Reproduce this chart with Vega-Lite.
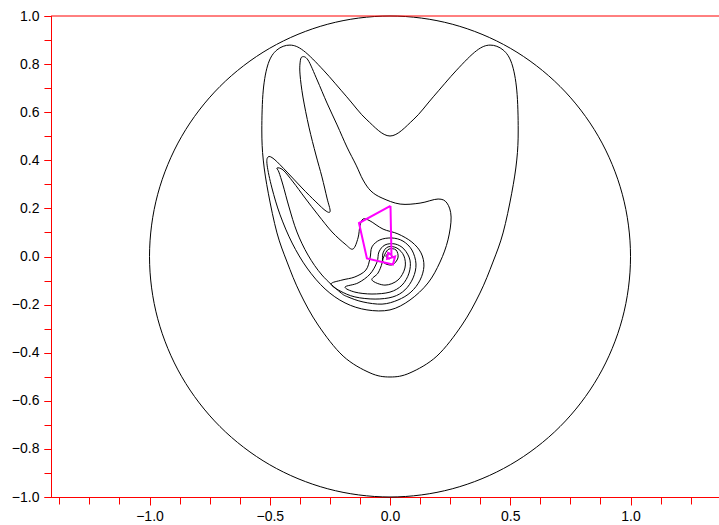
{
  "$schema": "https://vega.github.io/schema/vega-lite/v6.json",
  "autosize": {"type": "none"},
  "padding": {"left": 51, "top": 16, "right": 0, "bottom": 28},
  "width": 668,
  "height": 481,
  "background": "white",
  "config": {
    "view": {"stroke": null},
    "axis": {
      "grid": false,
      "domainColor": "#ff0000",
      "tickColor": "#ff0000",
      "tickSize": 7,
      "domainWidth": 1,
      "tickWidth": 1,
      "labelColor": "#000000",
      "labelFont": "Liberation Sans",
      "labelFontSize": 14,
      "labelPadding": 4,
      "labelOverlap": false,
      "labelFlush": false,
      "title": null
    }
  },
  "resolve": {"axis": {"x": "independent", "y": "independent"}},
  "datasets": {
    "curves": [
      {"c":0,"i":0,"x":1,"y":0},{"c":0,"i":1,"x":0.9659,"y":0.2588},{"c":0,"i":2,"x":0.866,"y":0.5},{"c":0,"i":3,"x":0.7071,"y":0.7071},{"c":0,"i":4,"x":0.5,"y":0.866},{"c":0,"i":5,"x":0.2588,"y":0.9659},{"c":0,"i":6,"x":0,"y":1},{"c":0,"i":7,"x":-0.2588,"y":0.9659},{"c":0,"i":8,"x":-0.5,"y":0.866},{"c":0,"i":9,"x":-0.7071,"y":0.7071},{"c":0,"i":10,"x":-0.866,"y":0.5},{"c":0,"i":11,"x":-0.9659,"y":0.2588},{"c":0,"i":12,"x":-1,"y":0},{"c":0,"i":13,"x":-0.9659,"y":-0.2588},{"c":0,"i":14,"x":-0.866,"y":-0.5},{"c":0,"i":15,"x":-0.7071,"y":-0.7071},{"c":0,"i":16,"x":-0.5,"y":-0.866},{"c":0,"i":17,"x":-0.2588,"y":-0.9659},{"c":0,"i":18,"x":0,"y":-1},{"c":0,"i":19,"x":0.2588,"y":-0.9659},{"c":0,"i":20,"x":0.5,"y":-0.866},{"c":0,"i":21,"x":0.7071,"y":-0.7071},{"c":0,"i":22,"x":0.866,"y":-0.5},{"c":0,"i":23,"x":0.9659,"y":-0.2588},

      {"c":1,"i":0,"x":0,"y":0.501},{"c":1,"i":1,"x":0.096,"y":0.568},{"c":1,"i":2,"x":0.18,"y":0.664},{"c":1,"i":3,"x":0.277,"y":0.775},{"c":1,"i":4,"x":0.36,"y":0.856},{"c":1,"i":5,"x":0.416,"y":0.879},{"c":1,"i":6,"x":0.47,"y":0.859},{"c":1,"i":7,"x":0.506,"y":0.803},{"c":1,"i":8,"x":0.527,"y":0.692},{"c":1,"i":9,"x":0.533,"y":0.526},{"c":1,"i":10,"x":0.527,"y":0.401},{"c":1,"i":11,"x":0.506,"y":0.263},{"c":1,"i":12,"x":0.47,"y":0.098},{"c":1,"i":13,"x":0.428,"y":-0.023},{"c":1,"i":14,"x":0.374,"y":-0.152},{"c":1,"i":15,"x":0.299,"y":-0.285},{"c":1,"i":16,"x":0.195,"y":-0.414},{"c":1,"i":17,"x":0.083,"y":-0.484},{"c":1,"i":18,"x":0,"y":-0.501},{"c":1,"i":19,"x":-0.083,"y":-0.484},{"c":1,"i":20,"x":-0.195,"y":-0.414},{"c":1,"i":21,"x":-0.299,"y":-0.285},{"c":1,"i":22,"x":-0.374,"y":-0.152},{"c":1,"i":23,"x":-0.428,"y":-0.023},{"c":1,"i":24,"x":-0.47,"y":0.098},{"c":1,"i":25,"x":-0.506,"y":0.263},{"c":1,"i":26,"x":-0.527,"y":0.401},{"c":1,"i":27,"x":-0.533,"y":0.526},{"c":1,"i":28,"x":-0.527,"y":0.692},{"c":1,"i":29,"x":-0.506,"y":0.803},{"c":1,"i":30,"x":-0.47,"y":0.859},{"c":1,"i":31,"x":-0.416,"y":0.879},{"c":1,"i":32,"x":-0.36,"y":0.856},{"c":1,"i":33,"x":-0.277,"y":0.775},{"c":1,"i":34,"x":-0.18,"y":0.664},{"c":1,"i":35,"x":-0.096,"y":0.568},

      {"c":2,"i":1,"x":-0.366,"y":0.83},{"c":2,"i":2,"x":-0.341,"y":0.817},{"c":2,"i":3,"x":-0.303,"y":0.734},{"c":2,"i":4,"x":-0.262,"y":0.638},{"c":2,"i":5,"x":-0.22,"y":0.547},{"c":2,"i":6,"x":-0.179,"y":0.455},{"c":2,"i":7,"x":-0.141,"y":0.38},{"c":2,"i":8,"x":-0.112,"y":0.318},{"c":2,"i":9,"x":-0.079,"y":0.272},{"c":2,"i":10,"x":-0.033,"y":0.243},{"c":2,"i":11,"x":0.042,"y":0.218},{"c":2,"i":12,"x":0.125,"y":0.222},{"c":2,"i":13,"x":0.2,"y":0.239},{"c":2,"i":14,"x":0.237,"y":0.222},{"c":2,"i":15,"x":0.254,"y":0.164},{"c":2,"i":16,"x":0.241,"y":0.069},{"c":2,"i":17,"x":0.208,"y":-0.023},{"c":2,"i":18,"x":0.158,"y":-0.11},{"c":2,"i":19,"x":0.083,"y":-0.181},{"c":2,"i":20,"x":0,"y":-0.222},{"c":2,"i":21,"x":-0.096,"y":-0.222},{"c":2,"i":22,"x":-0.187,"y":-0.193},{"c":2,"i":23,"x":-0.27,"y":-0.135},{"c":2,"i":24,"x":-0.345,"y":-0.048},{"c":2,"i":25,"x":-0.407,"y":0.056},{"c":2,"i":26,"x":-0.457,"y":0.173},{"c":2,"i":27,"x":-0.491,"y":0.285},{"c":2,"i":28,"x":-0.511,"y":0.38},{"c":2,"i":29,"x":-0.507,"y":0.414},{"c":2,"i":30,"x":-0.482,"y":0.405},{"c":2,"i":31,"x":-0.428,"y":0.351},{"c":2,"i":32,"x":-0.366,"y":0.285},{"c":2,"i":33,"x":-0.308,"y":0.227},{"c":2,"i":34,"x":-0.266,"y":0.189},{"c":2,"i":35,"x":-0.249,"y":0.189},{"c":2,"i":36,"x":-0.262,"y":0.243},{"c":2,"i":37,"x":-0.283,"y":0.331},{"c":2,"i":38,"x":-0.308,"y":0.422},{"c":2,"i":39,"x":-0.337,"y":0.538},{"c":2,"i":40,"x":-0.362,"y":0.663},{"c":2,"i":41,"x":-0.374,"y":0.755},{"c":2,"i":42,"x":-0.374,"y":0.805},

      {"c":3,"i":1,"x":-0.47,"y":0.368},{"c":3,"i":2,"x":-0.445,"y":0.36},{"c":3,"i":3,"x":-0.403,"y":0.31},{"c":3,"i":4,"x":-0.353,"y":0.243},{"c":3,"i":5,"x":-0.299,"y":0.173},{"c":3,"i":6,"x":-0.241,"y":0.102},{"c":3,"i":7,"x":-0.187,"y":0.052},{"c":3,"i":8,"x":-0.154,"y":0.031},{"c":3,"i":9,"x":-0.133,"y":0.077},{"c":3,"i":10,"x":-0.125,"y":0.127},{"c":3,"i":11,"x":-0.112,"y":0.156},{"c":3,"i":12,"x":-0.083,"y":0.148},{"c":3,"i":13,"x":-0.029,"y":0.114},{"c":3,"i":14,"x":0.033,"y":0.094},{"c":3,"i":15,"x":0.091,"y":0.06},{"c":3,"i":16,"x":0.129,"y":0.015},{"c":3,"i":17,"x":0.141,"y":-0.04},{"c":3,"i":18,"x":0.125,"y":-0.098},{"c":3,"i":19,"x":0.087,"y":-0.148},{"c":3,"i":20,"x":0.033,"y":-0.181},{"c":3,"i":21,"x":-0.033,"y":-0.198},{"c":3,"i":22,"x":-0.112,"y":-0.189},{"c":3,"i":23,"x":-0.175,"y":-0.168},{"c":3,"i":24,"x":-0.208,"y":-0.148},{"c":3,"i":25,"x":-0.283,"y":-0.077},{"c":3,"i":26,"x":-0.341,"y":0.006},{"c":3,"i":27,"x":-0.387,"y":0.102},{"c":3,"i":28,"x":-0.42,"y":0.206},{"c":3,"i":29,"x":-0.445,"y":0.297},{"c":3,"i":30,"x":-0.462,"y":0.351},

      {"c":4,"i":1,"x":-0.245,"y":-0.114},{"c":4,"i":2,"x":-0.208,"y":-0.143},{"c":4,"i":3,"x":-0.146,"y":-0.168},{"c":4,"i":4,"x":-0.062,"y":-0.177},{"c":4,"i":5,"x":0.012,"y":-0.168},{"c":4,"i":6,"x":0.062,"y":-0.139},{"c":4,"i":7,"x":0.096,"y":-0.089},{"c":4,"i":8,"x":0.108,"y":-0.031},{"c":4,"i":9,"x":0.091,"y":0.027},{"c":4,"i":10,"x":0.054,"y":0.064},{"c":4,"i":11,"x":0.008,"y":0.077},{"c":4,"i":12,"x":-0.042,"y":0.069},{"c":4,"i":13,"x":-0.075,"y":0.04},{"c":4,"i":14,"x":-0.083,"y":-0.006},{"c":4,"i":15,"x":-0.1,"y":-0.056},{"c":4,"i":16,"x":-0.146,"y":-0.085},{"c":4,"i":17,"x":-0.2,"y":-0.098},

      {"c":5,"i":1,"x":-0.187,"y":-0.127},{"c":5,"i":2,"x":-0.146,"y":-0.148},{"c":5,"i":3,"x":-0.075,"y":-0.156},{"c":5,"i":4,"x":0,"y":-0.148},{"c":5,"i":5,"x":0.05,"y":-0.119},{"c":5,"i":6,"x":0.079,"y":-0.069},{"c":5,"i":7,"x":0.083,"y":-0.015},{"c":5,"i":8,"x":0.058,"y":0.031},{"c":5,"i":9,"x":0.021,"y":0.052},{"c":5,"i":10,"x":-0.021,"y":0.048},{"c":5,"i":11,"x":-0.046,"y":0.019},{"c":5,"i":12,"x":-0.054,"y":-0.023},{"c":5,"i":13,"x":-0.083,"y":-0.073},{"c":5,"i":14,"x":-0.133,"y":-0.11},

      {"c":6,"i":1,"x":-0.075,"y":-0.098},{"c":6,"i":2,"x":-0.021,"y":-0.119},{"c":6,"i":3,"x":0.033,"y":-0.098},{"c":6,"i":4,"x":0.062,"y":-0.048},{"c":6,"i":5,"x":0.058,"y":0.002},{"c":6,"i":6,"x":0.029,"y":0.035},{"c":6,"i":7,"x":-0.008,"y":0.04},{"c":6,"i":8,"x":-0.029,"y":0.015},{"c":6,"i":9,"x":-0.033,"y":-0.027},{"c":6,"i":10,"x":-0.05,"y":-0.069},

      {"c":7,"i":1,"x":-0.029,"y":-0.023},{"c":7,"i":2,"x":0.008,"y":-0.035},{"c":7,"i":3,"x":0.033,"y":-0.006},{"c":7,"i":4,"x":0.025,"y":0.027},{"c":7,"i":5,"x":-0.004,"y":0.031},{"c":7,"i":6,"x":-0.021,"y":0.01},

      {"c":8,"i":1,"x":0.008,"y":0.002},{"c":8,"i":2,"x":-0.004,"y":0.014},{"c":8,"i":3,"x":-0.017,"y":0.002},{"c":8,"i":4,"x":-0.004,"y":-0.01}
    ],
    "orbit": [
      {"i":0,"x":0.002,"y":0.21},{"i":1,"x":-0.129,"y":0.139},{"i":2,"x":-0.096,"y":-0.008},{"i":3,"x":0.012,"y":-0.033},{"i":4,"x":0.021,"y":0.0},{"i":5,"x":-0.012,"y":-0.01},{"i":6,"x":-0.008,"y":0.015},{"i":7,"x":0.006,"y":0.006},{"i":8,"x":0.002,"y":0.21}
    ],
    "border": [{"y": 1}]
  },
  "layer": [
    {
      "data": {"name": "curves"},
      "mark": {"type": "line", "interpolate": "cardinal-closed", "color": "#000000", "strokeWidth": 1},
      "encoding": {
        "x": {"field": "x", "type": "quantitative",
              "scale": {"domain": [-1.4096, 1.3679], "nice": false, "zero": false},
              "axis": {"orient": "bottom", "labels": false,
                       "values": [-1.375,-1.25,-1.125,-1,-0.875,-0.75,-0.625,-0.5,-0.375,-0.25,-0.125,0,0.125,0.25,0.375,0.5,0.625,0.75,0.875,1,1.125,1.25]}},
        "y": {"field": "y", "type": "quantitative",
              "scale": {"domain": [-1, 1], "nice": false, "zero": false},
              "axis": {"orient": "left", "labels": false,
                       "values": [-1,-0.9,-0.8,-0.7,-0.6,-0.5,-0.4,-0.3,-0.2,-0.1,0,0.1,0.2,0.3,0.4,0.5,0.6,0.7,0.8,0.9,1]}},
        "detail": {"field": "c", "type": "nominal"},
        "order": {"field": "i", "type": "quantitative"}
      }
    },
    {
      "data": {"name": "orbit"},
      "mark": {"type": "line", "interpolate": "linear", "color": "#ff00ff", "strokeWidth": 2},
      "encoding": {
        "x": {"field": "x", "type": "quantitative",
              "axis": {"orient": "bottom", "values": [-1, -0.5, 0, 0.5, 1], "format": ".1f", "tickSize": 8, "labelPadding": 4}},
        "y": {"field": "y", "type": "quantitative",
              "axis": {"orient": "left", "values": [-1, -0.8, -0.6, -0.4, -0.2, 0, 0.2, 0.4, 0.6, 0.8, 1], "format": ".1f", "tickSize": 7, "labelPadding": 5}},
        "order": {"field": "i", "type": "quantitative"}
      }
    },
    {
      "data": {"name": "border"},
      "mark": {"type": "rule", "color": "#ff0000", "strokeWidth": 1},
      "encoding": {
        "y": {"field": "y", "type": "quantitative", "axis": null}
      }
    }
  ]
}
